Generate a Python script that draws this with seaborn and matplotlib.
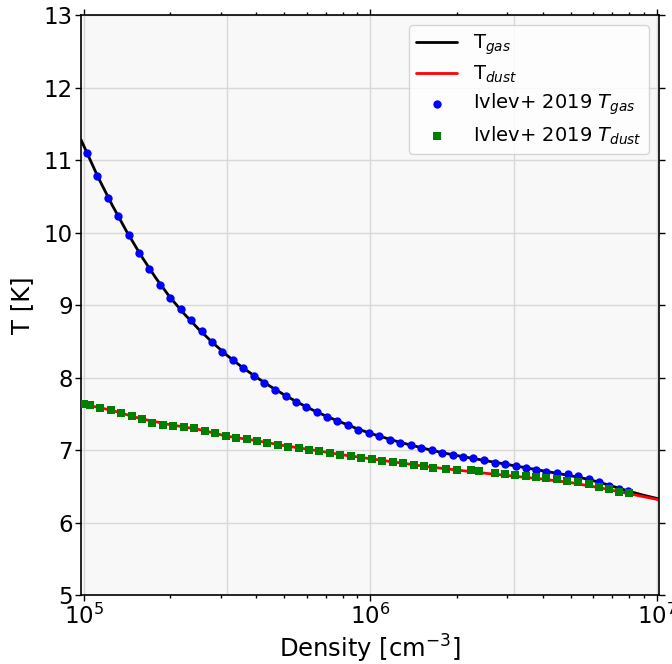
import matplotlib
matplotlib.use("Agg")
import matplotlib.pyplot as plt
import seaborn as sns
import numpy as np
from matplotlib.ticker import LogLocator, NullFormatter

# Model curves (log10 density in cm^-3, temperature in K)
log_n_gas_model = [4.99, 5.05, 5.10, 5.15, 5.20, 5.25, 5.30, 5.35, 5.40, 5.45,
                   5.50, 5.55, 5.60, 5.65, 5.70, 5.75, 5.80, 5.85, 5.90, 5.95,
                   6.00, 6.05, 6.10, 6.15, 6.20, 6.25, 6.30, 6.35, 6.40, 6.45,
                   6.50, 6.55, 6.60, 6.65, 6.70, 6.75, 6.80, 6.85, 6.90, 6.95, 7.008]
t_gas_model = [11.28, 10.76, 10.37, 10.01, 9.68, 9.38, 9.11, 8.88, 8.67, 8.48,
               8.305, 8.15, 8.01, 7.88, 7.76, 7.65, 7.55, 7.46, 7.38, 7.30,
               7.23, 7.17, 7.11, 7.06, 7.01, 6.965, 6.925, 6.89, 6.855, 6.82,
               6.785, 6.75, 6.715, 6.68, 6.645, 6.605, 6.555, 6.495, 6.435, 6.38, 6.325]

log_n_dust_model = [4.99, 5.0, 5.1, 5.2, 5.3, 5.4, 5.5, 5.6, 5.7, 5.8, 5.9, 6.0,
                    6.1, 6.2, 6.3, 6.4, 6.5, 6.6, 6.7, 6.8, 6.9, 7.0, 7.008]
t_dust_model = [7.64, 7.63, 7.545, 7.43, 7.35, 7.285, 7.19, 7.13, 7.06, 7.00, 6.935, 6.88,
                6.825, 6.77, 6.725, 6.68, 6.64, 6.60, 6.55, 6.48, 6.40, 6.32, 6.31]

# Ivlev et al. (2019) reference values
log_n_ivlev_gas = [5.012, 5.047, 5.084, 5.119, 5.157, 5.193, 5.229, 5.266, 5.302, 5.338,
                   5.375, 5.412, 5.448, 5.484, 5.520, 5.557, 5.593, 5.629, 5.667, 5.704,
                   5.740, 5.776, 5.813, 5.849, 5.885, 5.922, 5.958, 5.995, 6.031, 6.068,
                   6.104, 6.142, 6.176, 6.215, 6.251, 6.287, 6.323, 6.360, 6.397, 6.434,
                   6.470, 6.507, 6.543, 6.579, 6.615, 6.652, 6.689, 6.725, 6.762, 6.799,
                   6.834, 6.869, 6.899]
t_ivlev_gas = [11.095, 10.783, 10.470, 10.222, 9.959, 9.711, 9.490, 9.279, 9.094, 8.948,
               8.796, 8.644, 8.492, 8.349, 8.237, 8.133, 8.023, 7.926, 7.834, 7.747,
               7.668, 7.595, 7.520, 7.457, 7.396, 7.341, 7.282, 7.236, 7.189, 7.144,
               7.102, 7.065, 7.030, 6.996, 6.960, 6.932, 6.909, 6.891, 6.858, 6.826,
               6.803, 6.781, 6.757, 6.720, 6.702, 6.684, 6.665, 6.637, 6.601, 6.554,
               6.499, 6.463, 6.430]

log_n_ivlev_dust = [5.001, 5.021, 5.057, 5.094, 5.130, 5.167, 5.203, 5.239, 5.276, 5.313,
                    5.349, 5.386, 5.422, 5.458, 5.495, 5.532, 5.568, 5.604, 5.641, 5.678,
                    5.714, 5.751, 5.787, 5.822, 5.859, 5.895, 5.932, 5.969, 6.005, 6.041,
                    6.078, 6.115, 6.151, 6.188, 6.218, 6.264, 6.302, 6.352, 6.381, 6.434,
                    6.470, 6.506, 6.542, 6.579, 6.615, 6.652, 6.687, 6.725, 6.762, 6.798,
                    6.834, 6.869, 6.902]
t_ivlev_dust = [7.636, 7.617, 7.581, 7.548, 7.512, 7.471, 7.427, 7.378, 7.346, 7.327,
                7.320, 7.302, 7.265, 7.229, 7.196, 7.168, 7.150, 7.127, 7.098, 7.075,
                7.047, 7.023, 7.006, 6.981, 6.960, 6.937, 6.913, 6.894, 6.874, 6.854,
                6.833, 6.819, 6.799, 6.775, 6.757, 6.734, 6.727, 6.719, 6.709, 6.684,
                6.670, 6.656, 6.647, 6.623, 6.615, 6.596, 6.578, 6.560, 6.527, 6.491,
                6.458, 6.426, 6.401]

y_ticks = [5, 6, 7, 8, 9, 10, 11, 12, 13]
x_grid = [1e5, 10**5.5, 1e6, 10**6.5, 1e7]

sns.set_theme(style="whitegrid")
plt.rcParams["font.family"] = ["DejaVu Sans"]
plt.rcParams["mathtext.fontset"] = "dejavusans"
plt.rcParams["text.color"] = "black"
plt.rcParams["axes.labelcolor"] = "black"
plt.rcParams["xtick.color"] = "black"
plt.rcParams["ytick.color"] = "black"

fig = plt.figure(figsize=(6.72, 6.64), dpi=100)
ax = fig.add_axes([0.1205, 0.1039, 0.8602, 0.8735])
ax.set_facecolor("#f8f8f8")
ax.set_xscale("log")

def dens(logs):
    return [10.0 ** v for v in logs]

sns.lineplot(x=dens(log_n_gas_model), y=t_gas_model, color="black", lw=2,
             label="T$_{gas}$", ax=ax, sort=False, estimator=None, zorder=2)
sns.lineplot(x=dens(log_n_dust_model), y=t_dust_model, color="red", lw=2,
             label="T$_{dust}$", ax=ax, sort=False, estimator=None, zorder=2)
sns.scatterplot(x=dens(log_n_ivlev_gas), y=t_ivlev_gas, color="blue", marker="o",
                s=36, linewidth=0, label="Ivlev+ 2019 $T_{gas}$", ax=ax, zorder=3)
sns.scatterplot(x=dens(log_n_ivlev_dust), y=t_ivlev_dust, color="green", marker="s",
                s=30, linewidth=0, label="Ivlev+ 2019 $T_{dust}$", ax=ax, zorder=3)

ax.set_xlim(10**4.99, 10**7.008)
ax.set_ylim(5, 13)
ax.set_yticks(y_ticks)
ax.xaxis.set_major_locator(LogLocator(base=10, numticks=10))
ax.xaxis.set_minor_locator(LogLocator(base=10, subs=np.arange(2, 10), numticks=20))
ax.xaxis.set_minor_formatter(NullFormatter())

ax.grid(False)
ax.set_axisbelow(True)
ax.yaxis.grid(True, color="#d8d8d8", lw=1.0)
for gx in x_grid:
    ax.axvline(gx, color="#d8d8d8", lw=1.0, zorder=0.5)

ax.tick_params(which="both", direction="out", top=True, right=True, bottom=True,
               left=True, color="black", width=1)
ax.tick_params(which="major", length=4, labelsize=16.5, pad=2)
ax.tick_params(which="minor", length=2.5)
for sp in ax.spines.values():
    sp.set_color("black")
    sp.set_linewidth(1.2)

ax.set_xlabel("Density [cm$^{-3}$]", fontsize=17.5, labelpad=3)
ax.set_ylabel("T [K]", fontsize=17.5, labelpad=7)

leg = ax.legend(loc="upper right", fontsize=14, frameon=True, framealpha=0.8,
                edgecolor="#cccccc", fancybox=True, scatterpoints=1,
                labelspacing=0.35, handlelength=2.1)
leg.get_frame().set_facecolor("white")

fig.savefig("out.png", dpi=100)
